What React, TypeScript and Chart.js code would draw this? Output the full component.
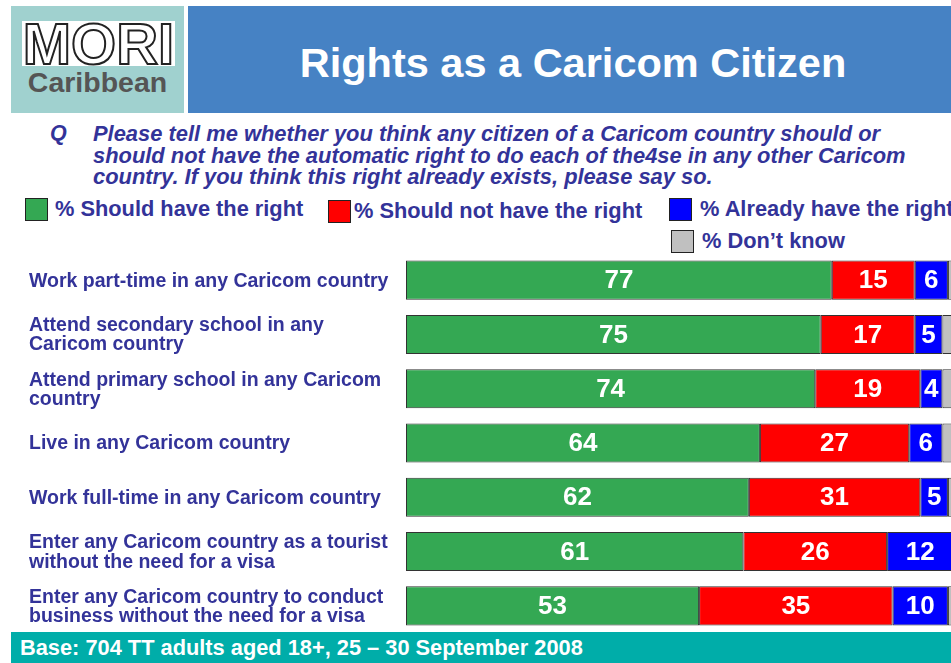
import React, { useEffect, useRef } from "react";
import { Chart, registerables } from "chart.js";

Chart.register(...registerables);

const categories: string[][] = [
  ["Work part-time in any Caricom country"],
  ["Attend secondary school in any", "Caricom country"],
  ["Attend primary school in any Caricom", "country"],
  ["Live in any Caricom country"],
  ["Work full-time in any Caricom country"],
  ["Enter any Caricom country as a tourist", "without the need for a visa"],
  ["Enter any Caricom country to conduct", "business without the need for a visa"],
];

const seriesNames = [
  "% Should have the right",
  "% Should not have the right",
  "% Already have the right",
  "% Don\u2019t know",
];
const shouldHave = [77, 75, 74, 64, 62, 61, 53];
const shouldNot = [15, 17, 19, 27, 31, 26, 35];
const already = [6, 5, 4, 6, 5, 12, 10];
const dontKnow = [2, 3, 3, 3, 2, 1, 2];
const seriesColors = ["#34A853", "#FF0000", "#0000FF", "#C0C0C0"];

const NAVY = "#333399";
const FONT = "'Liberation Sans', Arial, sans-serif";

const labelPlugin = {
  id: "segLabels",
  afterDatasetsDraw(chart: any) {
    const ctx = chart.ctx;
    ctx.save();
    ctx.fillStyle = "#FFFFFF";
    ctx.font = `bold 26px ${FONT}`;
    ctx.textAlign = "center";
    ctx.textBaseline = "middle";
    chart.data.datasets.forEach((ds: any, di: number) => {
      if (di > 2) return;
      const meta = chart.getDatasetMeta(di);
      meta.data.forEach((el: any, i: number) => {
        const v = ds.data[i];
        ctx.fillText(String(v), (el.x + el.base) / 2, el.y + 1);
      });
    });
    ctx.restore();
  },
};

function BarChart() {
  const ref = useRef<HTMLCanvasElement | null>(null);
  useEffect(() => {
    if (!ref.current) return;
    const data = [shouldHave, shouldNot, already, dontKnow];
    const chart = new Chart(ref.current, {
      type: "bar",
      data: {
        labels: categories as any,
        datasets: data.map((d, i) => ({
          label: seriesNames[i],
          data: d,
          backgroundColor: seriesColors[i],
          borderColor: "#333333",
          borderWidth: 1,
          borderSkipped: false,
          barPercentage: 0.72,
          categoryPercentage: 1,
        })),
      },
      options: {
        indexAxis: "y",
        responsive: false,
        animation: false,
        devicePixelRatio: 1,
        layout: { padding: { left: 29, right: 41, top: 0, bottom: 0 } },
        plugins: { legend: { display: false }, tooltip: { enabled: false } },
        scales: {
          x: { stacked: true, min: 0, max: 100, display: false },
          y: {
            stacked: true,
            grid: { display: false, drawTicks: false },
            border: { display: false },
            ticks: {
              crossAlign: "far",
              color: NAVY,
              padding: 0,
              labelOffset: 1,
              font: { family: FONT, size: 19.5, weight: "bold", lineHeight: 0.98 },
            },
            afterFit(scale: any) {
              scale.width = 377;
              scale.paddingTop = 0;
              scale.paddingBottom = 0;
            },
          },
        },
      } as any,
      plugins: [labelPlugin],
    });
    return () => chart.destroy();
  }, []);
  return (
    <canvas
      ref={ref}
      width={1000}
      height={380}
      style={{ position: "absolute", left: 0, top: 253, width: 1000, height: 380 }}
    />
  );
}

export default function App() {
  const legendPos = [
    { l: 25, t: 198, tx: 55 },
    { l: 328, t: 200, tx: 354 },
    { l: 669, t: 198, tx: 700 },
    { l: 671, t: 230, tx: 702 },
  ];
  return (
    <div
      style={{
        position: "fixed",
        left: 0,
        top: 0,
        width: 951,
        height: 663,
        overflow: "hidden",
        background: "#FFFFFF",
        fontFamily: FONT,
      }}
    >
      {/* logo */}
      <div style={{ position: "absolute", left: 11, top: 6, width: 173, height: 107, background: "#A0D1CF" }}>
        <div
          style={{
            position: "absolute",
            left: 11,
            top: 15,
            width: 153,
            height: 45,
            background: "#FFFFFF",
            overflow: "hidden",
          }}
        >
          <div
            style={{
              position: "absolute",
              left: 0,
              top: -9,
              width: 153,
              textAlign: "center",
              fontSize: 58,
              fontWeight: "bold",
              color: "#FFFFFF",
              WebkitTextStroke: "2px #222222",
              lineHeight: "64px",
            } as any}
          >
            MORI
          </div>
        </div>
        <div
          style={{
            position: "absolute",
            left: 0,
            top: 60,
            width: 173,
            textAlign: "center",
            fontSize: 28.5,
            fontWeight: "bold",
            color: "#555555",
            lineHeight: "32px",
          }}
        >
          Caribbean
        </div>
      </div>
      {/* title bar */}
      <div
        style={{
          position: "absolute",
          left: 188,
          top: 6,
          width: 770,
          height: 107,
          background: "#4682C4",
          color: "#FFFFFF",
          fontSize: 41.5,
          fontWeight: "bold",
          lineHeight: "107px",
          textAlign: "center",
        }}
      >
        <span style={{ position: "relative", left: 0, top: 3 }}>Rights as a Caricom Citizen</span>
      </div>
      {/* question */}
      <div
        style={{
          position: "absolute",
          left: 50,
          top: 123,
          color: NAVY,
          fontSize: 21.5,
          fontWeight: "bold",
          fontStyle: "italic",
          lineHeight: "21.5px",
        }}
      >
        Q
      </div>
      <div
        style={{
          position: "absolute",
          left: 93,
          top: 123,
          width: 860,
          color: NAVY,
          fontSize: 21.9,
          fontWeight: "bold",
          fontStyle: "italic",
          lineHeight: "21.5px",
          whiteSpace: "pre",
        }}
      >
        {"Please tell me whether you think any citizen of a Caricom country should or\nshould not have the automatic right to do each of the4se in any other Caricom\ncountry. If you think this right already exists, please say so."}
      </div>
      {/* legend */}
      {seriesNames.map((n, i) => (
        <React.Fragment key={n}>
          <div
            style={{
              position: "absolute",
              left: legendPos[i].l,
              top: legendPos[i].t,
              width: 21,
              height: 21,
              background: seriesColors[i],
              border: "1px solid #222222",
            }}
          />
          <div
            style={{
              position: "absolute",
              left: legendPos[i].tx,
              top: legendPos[i].t - 1,
              color: NAVY,
              fontSize: 21.8,
              fontWeight: "bold",
              lineHeight: "23px",
              whiteSpace: "nowrap",
            }}
          >
            {n}
          </div>
        </React.Fragment>
      ))}
      <BarChart />
      {/* footer */}
      <div
        style={{
          position: "absolute",
          left: 11,
          top: 632,
          width: 950,
          height: 31,
          background: "#00ADA9",
          color: "#FFFFFF",
          fontSize: 21.8,
          fontWeight: "bold",
          lineHeight: "31px",
          paddingLeft: 9,
          boxSizing: "border-box",
          whiteSpace: "nowrap",
        }}
      >
        Base: 704 TT adults aged 18+, 25 – 30 September 2008
      </div>
    </div>
  );
}
